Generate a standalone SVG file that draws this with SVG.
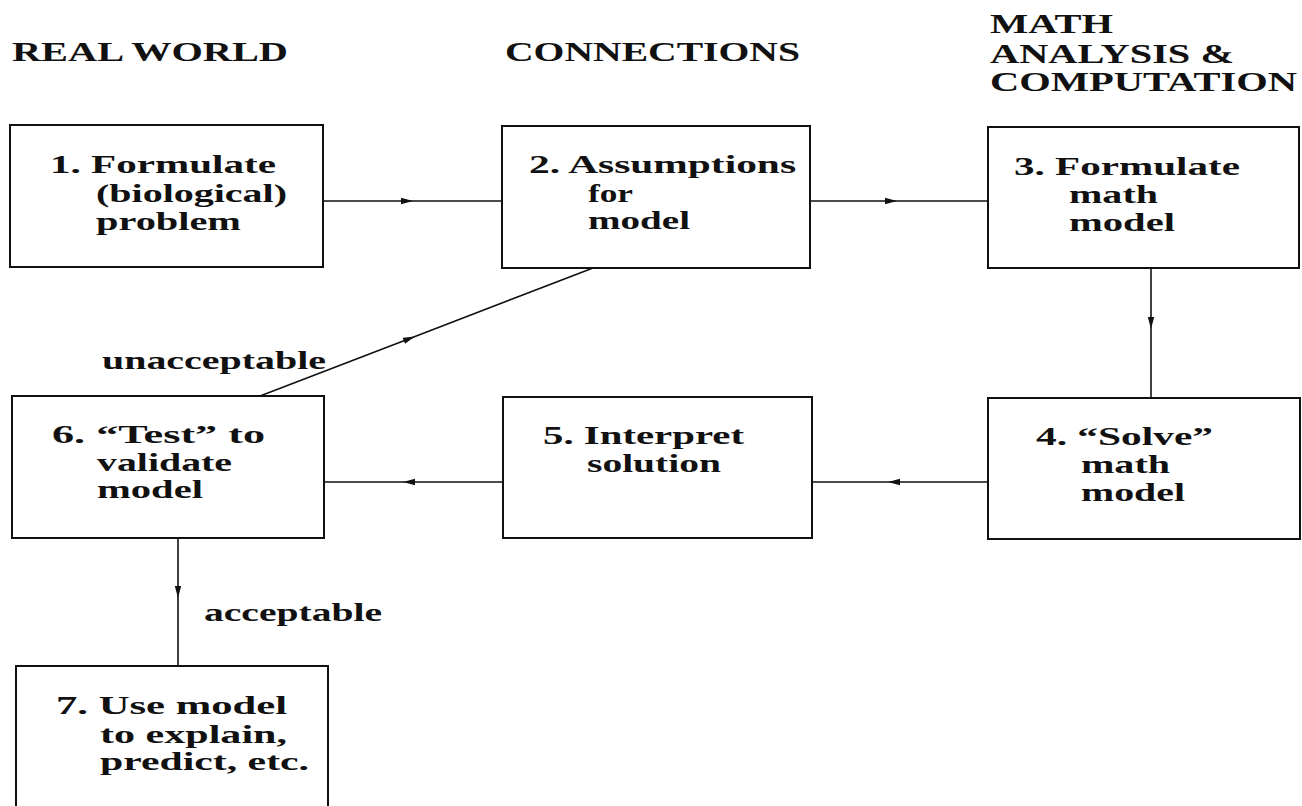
<svg xmlns="http://www.w3.org/2000/svg" width="1302" height="806" viewBox="0 0 1302 806">
<style>
  .box { fill: #fff; stroke: #111; stroke-width: 2; }
  .conn { fill: none; stroke: #111; stroke-width: 1.6; marker-mid: url(#arr); }
  text { font-family: "Liberation Serif", "DejaVu Serif", serif; font-weight: bold; fill: #111; font-size: 25px; }
  .hdr { font-size: 27px; }
</style>
<defs>
  <marker id="arr" markerUnits="userSpaceOnUse" markerWidth="12" markerHeight="8" refX="12" refY="4" orient="auto">
    <path d="M0,0.8 L12,4 L0,7.2 z" fill="#111"/>
  </marker>
</defs>
<rect width="1302" height="806" fill="#fff"/>

<g id="headers">
  <text class="hdr" x="12" y="61" textLength="276" lengthAdjust="spacingAndGlyphs">REAL WORLD</text>
  <text class="hdr" x="505" y="61" textLength="295" lengthAdjust="spacingAndGlyphs">CONNECTIONS</text>
  <text class="hdr" x="990" y="33" textLength="123" lengthAdjust="spacingAndGlyphs">MATH</text>
  <text class="hdr" x="990" y="63" textLength="244" lengthAdjust="spacingAndGlyphs">ANALYSIS &amp;</text>
  <text class="hdr" x="990" y="91" textLength="307" lengthAdjust="spacingAndGlyphs">COMPUTATION</text>
</g>

<g id="connectors">
  <path class="conn" d="M323,201 L413,201 L502,201"/>
  <path class="conn" d="M810,201 L897,201 L988,201"/>
  <path class="conn" d="M1151,268 L1151,329 L1151,398"/>
  <path class="conn" d="M988,482 L888,482 L812,482"/>
  <path class="conn" d="M503,482 L403,482 L324,482"/>
  <path class="conn" d="M260,396 L415,336.5 L593,268"/>
  <path class="conn" d="M178,538 L178,598 L178,666"/>
  <text x="102" y="369" textLength="224" lengthAdjust="spacingAndGlyphs">unacceptable</text>
  <text x="204" y="621" textLength="178" lengthAdjust="spacingAndGlyphs">acceptable</text>
</g>

<g id="node1">
  <rect class="box" x="10" y="125" width="313" height="142"/>
  <text x="50" y="173" textLength="226" lengthAdjust="spacingAndGlyphs">1.  Formulate</text>
  <text x="96" y="202" textLength="191" lengthAdjust="spacingAndGlyphs">(biological)</text>
  <text x="96" y="230" textLength="145" lengthAdjust="spacingAndGlyphs">problem</text>
</g>

<g id="node2">
  <rect class="box" x="502" y="126" width="308" height="142"/>
  <text x="529" y="173" textLength="267" lengthAdjust="spacingAndGlyphs">2.  Assumptions</text>
  <text x="588" y="202" textLength="45" lengthAdjust="spacingAndGlyphs">for</text>
  <text x="588" y="229" textLength="102" lengthAdjust="spacingAndGlyphs">model</text>
</g>

<g id="node3">
  <rect class="box" x="988" y="127" width="311" height="141"/>
  <text x="1014" y="175" textLength="226" lengthAdjust="spacingAndGlyphs">3.  Formulate</text>
  <text x="1069" y="203" textLength="89" lengthAdjust="spacingAndGlyphs">math</text>
  <text x="1069" y="231" textLength="106" lengthAdjust="spacingAndGlyphs">model</text>
</g>

<g id="node4">
  <rect class="box" x="988" y="398" width="312" height="141"/>
  <text x="1036" y="445" textLength="177" lengthAdjust="spacingAndGlyphs">4.  “Solve”</text>
  <text x="1081" y="473" textLength="89" lengthAdjust="spacingAndGlyphs">math</text>
  <text x="1081" y="501" textLength="104" lengthAdjust="spacingAndGlyphs">model</text>
</g>

<g id="node5">
  <rect class="box" x="503" y="397" width="309" height="141"/>
  <text x="543" y="444" textLength="201" lengthAdjust="spacingAndGlyphs">5.  Interpret</text>
  <text x="587" y="472" textLength="134" lengthAdjust="spacingAndGlyphs">solution</text>
</g>

<g id="node6">
  <rect class="box" x="12" y="396" width="312" height="142"/>
  <text x="52" y="443" textLength="213" lengthAdjust="spacingAndGlyphs">6.  “Test” to</text>
  <text x="97" y="471" textLength="135" lengthAdjust="spacingAndGlyphs">validate</text>
  <text x="97" y="498" textLength="106" lengthAdjust="spacingAndGlyphs">model</text>
</g>

<g id="node7">
  <rect class="box" x="16" y="666" width="312" height="160"/>
  <text x="56" y="714" textLength="231" lengthAdjust="spacingAndGlyphs">7.  Use model</text>
  <text x="100" y="743" textLength="187" lengthAdjust="spacingAndGlyphs">to explain,</text>
  <text x="100" y="770" textLength="209" lengthAdjust="spacingAndGlyphs">predict, etc.</text>
</g>
</svg>
